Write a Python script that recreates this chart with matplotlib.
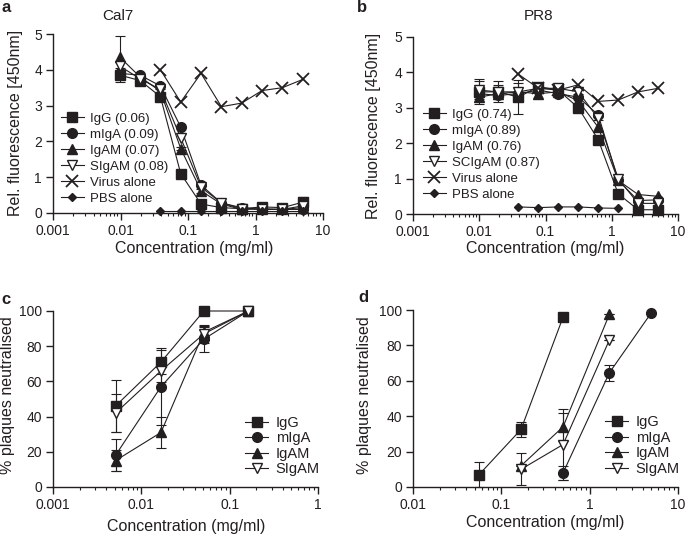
import numpy as np
import matplotlib
matplotlib.use("Agg")
import matplotlib.pyplot as plt
from matplotlib.ticker import LogLocator, FuncFormatter, NullFormatter

plt.rcParams['font.family'] = ['Liberation Sans', 'DejaVu Sans']
INK = '#231f20'

W, H = 685, 536

# ---- panel a : Cal7 --------------------------------------------------
conc_ab = [0.0098, 0.0195, 0.039, 0.078, 0.156, 0.3125, 0.625, 1.25, 2.5, 5.0]

igg_a = [3.85, 3.70, 3.25, 1.10, 0.25, 0.15, 0.12, 0.17, 0.15, 0.30]
igg_a_err = [0.20, 0.08, 0.05, 0.05, 0.05, 0.05, 0.03, 0.05, 0.05, 0.15]
miga_a = [3.90, 3.85, 3.55, 2.40, 0.78, 0.28, 0.15, 0.10, 0.10, 0.10]
igam_a = [4.35, 3.80, 3.40, 1.80, 0.62, 0.25, 0.10, 0.12, 0.10, 0.15]
igam_a_err = [0.60, 0.05, 0.05, 0.05, 0.05, 0.05, 0.03, 0.03, 0.03, 0.05]
sigam_a = [4.10, 3.75, 3.45, 2.10, 0.72, 0.28, 0.12, 0.10, 0.10, 0.20]
virus_a = [4.00, 3.10, 3.90, 2.97, 3.07, 3.42, 3.50, 3.73]
pbs_a = [0.05, 0.05, 0.05, 0.05, 0.05, 0.05, 0.05, 0.05]

# ---- panel b : PR8 ---------------------------------------------------
igg_b = [3.45, 3.45, 3.30, 3.60, 3.50, 3.00, 2.10, 0.57, 0.12, 0.12]
igg_b_err = [0.35, 0.30, 0.48, 0.05, 0.05, 0.05, 0.05, 0.05, 0.05, 0.05]
miga_b = [3.40, 3.35, 3.40, 3.50, 3.40, 3.30, 2.80, 0.95, 0.38, 0.40]
igam_b = [3.30, 3.40, 3.45, 3.40, 3.45, 3.20, 2.45, 0.95, 0.55, 0.50]
scigam_b = [3.50, 3.45, 3.45, 3.55, 3.55, 3.45, 2.70, 1.00, 0.30, 0.30]
scigam_b_err = [0.25, 0.20, 0.25, 0.05, 0.05, 0.05, 0.05, 0.05, 0.05, 0.05]
virus_b = [3.95, 3.55, 3.50, 3.65, 3.18, 3.22, 3.45, 3.55]
pbs_b = [0.20, 0.18, 0.20, 0.20, 0.17, 0.16]

# ---- panel c : plaque neutralisation Cal7 ---------------------------
conc_c = [0.0051, 0.0167, 0.051, 0.163]
igg_c = [46, 71, 100, 100]
igg_c_err = [15, 7, 0, 0]
miga_c = [18, 57, 84, 100]
miga_c_err = [9, 22, 7.5, 0]
igam_c = [15, 31, 88, 100]
igam_c_err = [6, 9, 3, 0]
sigam_c = [42, 66, 87, 100]
sigam_c_err = [11, 6.5, 5, 0]

# ---- panel d : plaque neutralisation PR8 ----------------------------
igg_d_x = [0.056, 0.167, 0.5]
igg_d = [7, 32.5, 96]
igg_d_err = [7, 4.3, 0]
miga_d_x = [0.5, 1.67, 5.0]
miga_d = [8, 64.5, 98.5]
miga_d_err = [4, 4.7, 0]
igam_d_x = [0.167, 0.5, 1.67]
igam_d = [12, 34, 97.5]
igam_d_err = [0, 8, 0]
sigam_d_x = [0.167, 0.5, 1.67]
sigam_d = [10, 24, 83]
sigam_d_err = [9, 20, 0]

STYLE = {
    'IgG': dict(marker='s', ms=6.5, mfc=INK),
    'mIgA': dict(marker='o', ms=7, mfc=INK),
    'IgAM': dict(marker='^', ms=7, mfc=INK),
    'SIgAM': dict(marker='v', ms=7, mfc='white'),
    'Virus': dict(marker='x', ms=8.5, mfc=INK, mew=1.3),
    'PBS': dict(marker='D', ms=4.5, mfc=INK),
}


def fx(px):
    return px / W


def fy(py):
    return 1 - py / H


def make_axes(fig, l, r, t, b):
    ax = fig.add_axes([fx(l), fy(b), fx(r) - fx(l), fy(t) - fy(b)])
    ax.set_xscale('log')
    for s in ('top', 'right'):
        ax.spines[s].set_visible(False)
    for s in ('left', 'bottom'):
        ax.spines[s].set_linewidth(1.0)
        ax.spines[s].set_color(INK)
    ax.xaxis.set_major_locator(LogLocator(base=10))
    ax.xaxis.set_minor_locator(LogLocator(base=10, subs=np.arange(2, 10)))
    ax.xaxis.set_major_formatter(FuncFormatter(lambda v, _: f'{v:g}'))
    ax.xaxis.set_minor_formatter(NullFormatter())
    ax.tick_params(which='major', direction='out', length=5, width=1.0,
                   colors=INK, labelsize=10, pad=3)
    ax.tick_params(which='minor', direction='out', length=2.5, width=0.8,
                   colors=INK)
    ax.tick_params(axis='y', which='minor', length=0)
    return ax


def series(ax, x, y, key, label, err=None):
    st = dict(STYLE[key])
    mfc = st.pop('mfc')
    mew = st.pop('mew', 1.0)
    if err is not None:
        ax.errorbar(x, y, yerr=err, fmt='none', ecolor=INK, elinewidth=0.8,
                    capsize=3.5, capthick=0.8, clip_on=False, zorder=2)
    ax.plot(x, y, color=INK, lw=0.8, mfc=mfc, mec=INK, mew=mew,
            label=label, clip_on=False, zorder=3, **st)


def legend(ax, anchor, size, spacing, hl):
    ax.legend(loc='upper left', bbox_to_anchor=anchor, frameon=False,
              fontsize=size, borderpad=0, borderaxespad=0, handlelength=hl,
              handletextpad=0.5, labelspacing=spacing, labelcolor=INK)


fig = plt.figure(figsize=(W / 100, H / 100), dpi=100)

# ---------------- a ----------------
ax = make_axes(fig, 53, 323, 34, 213)
series(ax, conc_ab, igg_a, 'IgG', 'IgG (0.06)', igg_a_err)
series(ax, conc_ab, miga_a, 'mIgA', 'mIgA (0.09)')
series(ax, conc_ab, igam_a, 'IgAM', 'IgAM (0.07)', igam_a_err)
series(ax, conc_ab, sigam_a, 'SIgAM', 'SIgAM (0.08)')
series(ax, conc_ab[2:], virus_a, 'Virus', 'Virus alone')
series(ax, conc_ab[2:], pbs_a, 'PBS', 'PBS alone')
ax.set_xlim(0.001, 10)
ax.set_ylim(0, 5)
ax.set_yticks([0, 1, 2, 3, 4, 5])
legend(ax, (0.03, 0.56), 9.5, 0.28, 1.7)

# ---------------- b ----------------
ax = make_axes(fig, 413, 678, 37, 214)
series(ax, conc_ab, igg_b, 'IgG', 'IgG (0.74)', igg_b_err)
series(ax, conc_ab, miga_b, 'mIgA', 'mIgA (0.89)')
series(ax, conc_ab, igam_b, 'IgAM', 'IgAM (0.76)')
series(ax, conc_ab, scigam_b, 'SIgAM', 'SCIgAM (0.87)', scigam_b_err)
series(ax, conc_ab[2:], virus_b, 'Virus', 'Virus alone')
series(ax, conc_ab[2:8], pbs_b, 'PBS', 'PBS alone')
ax.set_xlim(0.001, 10)
ax.set_ylim(0, 5)
ax.set_yticks([0, 1, 2, 3, 4, 5])
legend(ax, (0.038, 0.595), 9.5, 0.28, 1.7)

# ---------------- c ----------------
ax = make_axes(fig, 53, 318, 311, 487)
series(ax, conc_c, igg_c, 'IgG', 'IgG', igg_c_err)
series(ax, conc_c, miga_c, 'mIgA', 'mIgA', miga_c_err)
series(ax, conc_c, igam_c, 'IgAM', 'IgAM', igam_c_err)
series(ax, conc_c, sigam_c, 'SIgAM', 'SIgAM', sigam_c_err)
ax.set_xlim(0.001, 1)
ax.set_ylim(0, 100)
ax.set_yticks([0, 20, 40, 60, 80, 100])
legend(ax, (0.725, 0.405), 10.5, 0.1, 1.6)

# ---------------- d ----------------
ax = make_axes(fig, 413, 678, 310, 487)
series(ax, igg_d_x, igg_d, 'IgG', 'IgG', igg_d_err)
series(ax, miga_d_x, miga_d, 'mIgA', 'mIgA', miga_d_err)
series(ax, igam_d_x, igam_d, 'IgAM', 'IgAM', igam_d_err)
series(ax, sigam_d_x, sigam_d, 'SIgAM', 'SIgAM', sigam_d_err)
ax.set_xlim(0.01, 10)
ax.set_ylim(0, 100)
ax.set_yticks([0, 20, 40, 60, 80, 100])
legend(ax, (0.725, 0.405), 10.5, 0.1, 1.6)

# ---------------- texts ----------------
def txt(x, y, s, **kw):
    kw.setdefault('color', INK)
    kw.setdefault('ha', 'center')
    kw.setdefault('va', 'center')
    fig.text(fx(x), fy(y), s, **kw)


txt(6, 8, 'a', fontsize=12, fontweight='bold')
txt(362, 8, 'b', fontsize=12, fontweight='bold')
txt(6, 299, 'c', fontsize=12, fontweight='bold')
txt(363, 297, 'd', fontsize=12, fontweight='bold')
txt(118, 16, 'Cal7', fontsize=11)
txt(539, 16, 'PR8', fontsize=11)

ylab = 'Rel. fluorescence [450nm]'
txt(16, 123, ylab, fontsize=11.5, rotation=90)
txt(374, 126, ylab, fontsize=11.5, rotation=90)
txt(8, 395, '% plaques neutralised', fontsize=11.5, rotation=90)
txt(365, 395, '% plaques neutralised', fontsize=11.5, rotation=90)

xlab = 'Concentration (mg/ml)'
txt(194, 248, xlab, fontsize=11.5)
txt(545, 248, xlab, fontsize=11.5)
txt(186, 527, xlab, fontsize=11.5)
txt(545, 523, xlab, fontsize=11.5)

fig.savefig('out.png', dpi=100)
